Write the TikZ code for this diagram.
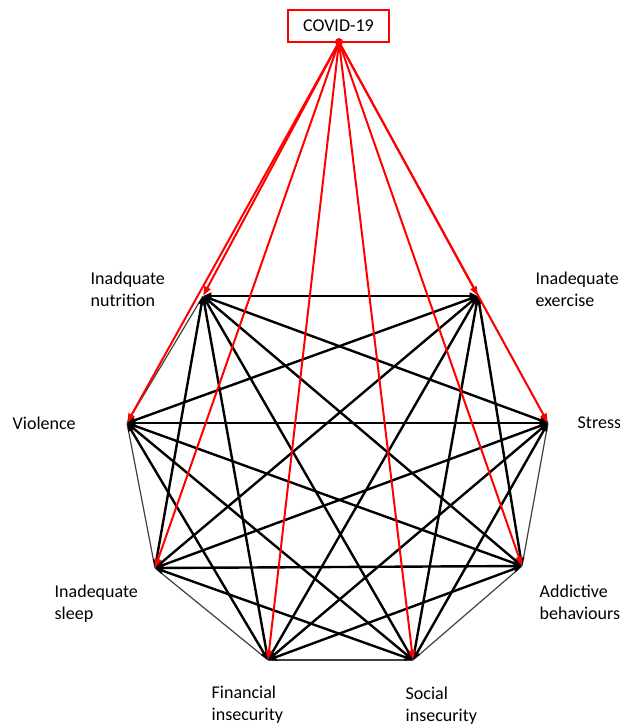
\documentclass[tikz,border=0pt]{standalone}
\usepackage{fontspec}
\setmainfont{Carlito}
\usepackage{tikz}
\usetikzlibrary{arrows.meta,positioning}
\definecolor{covred}{RGB}{255,0,0}

\begin{document}
\begin{tikzpicture}[x=0.75pt,y=-0.75pt,
  vtx/.style={inner sep=0pt,minimum size=0pt},
  lbl/.style={font=\fontsize{13.5}{16.5}\selectfont,align=left,anchor=west},
  link/.style={black,line width=1.8pt,{Triangle[length=6pt,width=5pt]}-{Triangle[length=6pt,width=5pt]}},
  rim/.style={black!75,line width=0.9pt},
  hit/.style={covred,line width=1.5pt,-{Triangle[length=7pt,width=5pt]}}
]
  \path[use as bounding box] (0,0) rectangle (620,726);
  % cause
  \node[draw=covred,line width=1.5pt,minimum width=76pt,minimum height=24pt,
    font=\fontsize{13.5}{16}\selectfont] (covid) at (338.5,26) {COVID-19};
  \coordinate (src) at (339,42);
  % the eight outcomes
  \node[vtx] (nut) at (203,296) {};
  \node[vtx] (exe) at (478,296) {};
  \node[vtx] (str) at (548,423) {};
  \node[vtx] (add) at (522,566) {};
  \node[vtx] (soc) at (413,660) {};
  \node[vtx] (fin) at (268,660) {};
  \node[vtx] (slp) at (155,568) {};
  \node[vtx] (vio) at (127,423) {};
  % labels
  \node[lbl] (nutl) at (86,289) {Inadquate\\nutrition};
  \node[lbl] (exel) at (531,289) {Inadequate\\exercise};
  \node[lbl] (strl) at (573,423) {Stress};
  \node[lbl] (addl) at (535,602) {Addictive\\behaviours};
  \node[lbl] (socl) at (401,706) {Social\\insecurity};
  \node[lbl] (finl) at (207,705) {Financial\\insecurity};
  \node[lbl] (slpl) at (50,604) {Inadequate\\sleep};
  \node[lbl] (viol) at (8,423) {Violence};
  % outer ring
  \foreach \a/\b in {exe/str,str/add,add/soc,soc/fin,fin/slp,slp/vio,vio/nut}
    \draw[rim] (\a) -- (\b);
  % links between outcomes
  \foreach \a/\b in {nut/exe,nut/str,nut/add,nut/soc,nut/fin,nut/slp,
      exe/add,exe/soc,exe/fin,exe/slp,exe/vio,
      str/soc,str/fin,str/slp,str/vio,
      add/fin,add/slp,add/vio,
      soc/slp,soc/vio,fin/vio}
    \draw[link] (\a) -- (\b);
  % effects of COVID-19
  \foreach \b in {nut,exe,str,add,soc,fin,slp,vio}
    \draw[hit] (src) -- (\b);
  \fill[covred] (src) circle (4);
\end{tikzpicture}
\end{document}
